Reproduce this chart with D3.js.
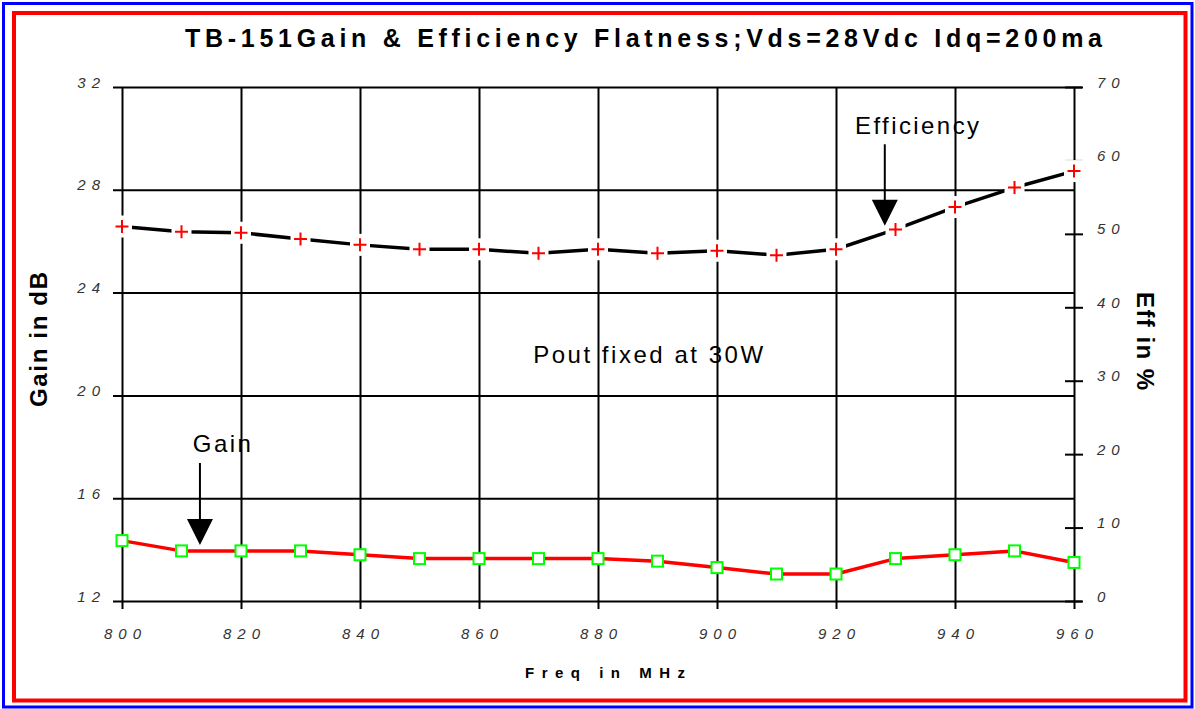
<!DOCTYPE html>
<html>
<head>
<meta charset="utf-8">
<script src="https://cdn.jsdelivr.net/npm/d3@7"></script>
<style>
  html, body { margin: 0; padding: 0; background: #fff; }
  svg { display: block; }
  text { font-family: "Liberation Sans", Arial, Helvetica, sans-serif; }
</style>
</head>
<body>
<svg id="chart" width="1195" height="709"></svg>
<script>
// data
const freqs = [800, 810, 820, 830, 840, 850, 860, 870, 880, 890, 900, 910, 920, 930, 940, 950, 960];
const gain = [14.35, 13.95, 13.95, 13.95, 13.8, 13.65, 13.65, 13.65, 13.65, 13.55, 13.3, 13.05, 13.05, 13.65, 13.8, 13.95, 13.5];
const eff = [51.0, 50.3, 50.15, 49.3, 48.5, 47.9, 47.9, 47.35, 47.9, 47.35, 47.7, 47.1, 47.9, 50.6, 53.65, 56.3, 58.55];

const xTicks = [800, 820, 840, 860, 880, 900, 920, 940, 960];
const gainTicks = [12, 16, 20, 24, 28, 32];
const effTicks = [0, 10, 20, 30, 40, 50, 60, 70];

const title = "TB-151Gain & Efficiency Flatness;Vds=28Vdc Idq=200ma";

const svg = d3.select("#chart");

// frames
svg.append("rect").attr("x", 3.5).attr("y", 3.5).attr("width", 1188.5).attr("height", 703.5)
  .attr("fill", "none").attr("stroke", "#0000ff").attr("stroke-width", 3);
svg.append("rect").attr("x", 14).attr("y", 13).attr("width", 1171.5).attr("height", 687.5)
  .attr("fill", "none").attr("stroke", "#ff0000").attr("stroke-width", 4);

const x = d3.scaleLinear().domain([800, 960]).range([122, 1074]);
const yG = d3.scaleLinear().domain([12, 32]).range([601, 87]);
const yE = d3.scaleLinear().domain([0, 70]).range([601, 87]);

const lbl = {fill: "#333", size: 15, ls: 6};

// left axis (gain) -- gridlines across the plot
const gAxL = svg.append("g").attr("transform", "translate(122,0)")
  .call(d3.axisLeft(yG).tickValues(gainTicks).tickSize(-952).tickFormat(d3.format("d")));
gAxL.select(".domain").remove();
gAxL.selectAll(".tick line").attr("x1", -9).attr("stroke", "#000").attr("stroke-width", 2)
  .attr("x2", d => d === 12 || d === 32 ? 960 : 952);
gAxL.selectAll(".tick text").attr("x", -16).attr("dy", 0)
  .style("font-size", lbl.size + "px").style("font-style", "italic")
  .style("letter-spacing", lbl.ls + "px").attr("fill", lbl.fill)
  .style("font-family", "'Liberation Sans', Arial, sans-serif");

// bottom axis (freq) -- vertical gridlines
const gAxB = svg.append("g").attr("transform", "translate(0,601)")
  .call(d3.axisBottom(x).tickValues(xTicks).tickSize(-514).tickFormat(d3.format("d")));
gAxB.select(".domain").remove();
gAxB.selectAll(".tick line").attr("y1", 8).attr("stroke", "#000").attr("stroke-width", 2);
gAxB.selectAll(".tick text").attr("y", 38).attr("dy", 0).attr("dx", lbl.ls / 2)
  .style("font-size", lbl.size + "px").style("font-style", "italic")
  .style("letter-spacing", lbl.ls + "px").attr("fill", lbl.fill)
  .style("font-family", "'Liberation Sans', Arial, sans-serif");

// right axis (efficiency) -- short ticks
const gAxR = svg.append("g").attr("transform", "translate(1074,0)")
  .call(d3.axisRight(yE).tickValues(effTicks).tickSize(9).tickFormat(d3.format("d")));
gAxR.select(".domain").remove();
gAxR.selectAll(".tick line").attr("x1", -9).attr("stroke", "#000").attr("stroke-width", 2);
gAxR.selectAll(".tick text").attr("x", 23).attr("dy", 0)
  .style("font-size", lbl.size + "px").style("font-style", "italic")
  .style("letter-spacing", lbl.ls + "px").attr("fill", lbl.fill)
  .style("font-family", "'Liberation Sans', Arial, sans-serif");

// gain series
const gainLine = d3.line().x((d, i) => x(freqs[i])).y(d => yG(d));
svg.append("path").datum(gain).attr("d", gainLine)
  .attr("fill", "none").attr("stroke", "#ff0000").attr("stroke-width", 3.5).attr("stroke-linejoin", "round");
svg.append("g").selectAll("rect").data(gain).join("rect")
  .attr("x", (d, i) => x(freqs[i]) - 5.5).attr("y", d => yG(d) - 5.5)
  .attr("width", 11).attr("height", 11)
  .attr("fill", "#fff").attr("stroke", "#00ff00").attr("stroke-width", 2);

// efficiency series
const effLine = d3.line().x((d, i) => x(freqs[i])).y(d => yE(d));
svg.append("path").datum(eff).attr("d", effLine)
  .attr("fill", "none").attr("stroke", "#000").attr("stroke-width", 3.5);
const effPts = svg.append("g").selectAll("g").data(eff).join("g")
  .attr("transform", (d, i) => `translate(${x(freqs[i])},${yE(d)})`);
effPts.append("rect").attr("x", -10).attr("y", -11).attr("width", 20).attr("height", 22).attr("fill", "#fff");
effPts.append("path").attr("d", "M-6.5,0H6.5M0,-6.5V6.5")
  .attr("stroke", "#ff0000").attr("stroke-width", 2).attr("fill", "none");

// annotations, placed in data units
function arrow(fx, yTop, yTip, scaleY) {
  const ax = x(fx), top = scaleY(yTop), tip = scaleY(yTip);
  svg.append("line").attr("x1", ax).attr("x2", ax).attr("y1", top).attr("y2", tip - 24)
    .attr("stroke", "#000").attr("stroke-width", 2);
  svg.append("path").attr("d", `M${ax - 13},${tip - 26}L${ax + 13},${tip - 26}L${ax},${tip}Z`).attr("fill", "#000");
}
arrow(928.2, 62.2, 51.1, yE);
arrow(813.1, 17.37, 14.18, yG);

function note(txt, fx, fy, scaleY, len) {
  svg.append("text").attr("x", x(fx)).attr("y", scaleY(fy))
    .attr("textLength", len).attr("lengthAdjust", "spacing")
    .style("font-size", "24px").attr("fill", "#000").text(txt);
}
note("Efficiency", 923.2, 63.6, yE, 124);
note("Gain", 811.9, 17.8, yG, 58);
note("Pout fixed at 30W", 869.1, 21.26, yG, 230);

// titles
svg.append("text").attr("x", 185).attr("y", 47).attr("textLength", 917).attr("lengthAdjust", "spacing")
  .style("font-size", "25px").style("font-weight", "bold").attr("fill", "#000").text(title);

svg.append("text").attr("x", 525).attr("y", 678).attr("textLength", 160).attr("lengthAdjust", "spacing")
  .style("font-size", "15px").style("font-weight", "bold").attr("fill", "#000").text("Freq in MHz");

svg.append("text").attr("transform", "translate(47,407)rotate(-90)")
  .attr("textLength", 135).attr("lengthAdjust", "spacing")
  .style("font-size", "24px").style("font-weight", "bold").attr("fill", "#000").text("Gain in dB");

svg.append("text").attr("transform", "translate(1137,292)rotate(90)")
  .attr("textLength", 98).attr("lengthAdjust", "spacing")
  .style("font-size", "24px").style("font-weight", "bold").attr("fill", "#000").text("Eff in %");
</script>
</body>
</html>
